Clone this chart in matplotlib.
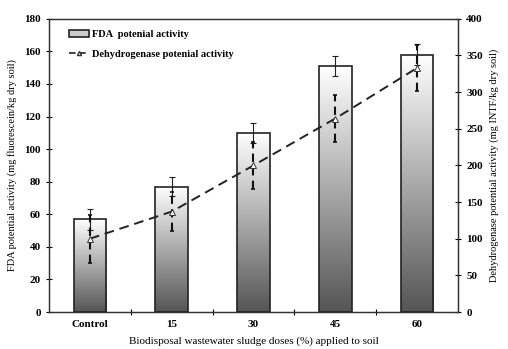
import numpy as np
import matplotlib
matplotlib.use('Agg')
import matplotlib.pyplot as plt
from matplotlib.patches import Rectangle
from matplotlib.lines import Line2D
from matplotlib.colors import LinearSegmentedColormap

plt.rcParams['font.family'] = 'Liberation Serif'
plt.rcParams['font.weight'] = 'bold'
plt.rcParams['font.size'] = 8

doses = ['Control', '15', '30', '45', '60']
fda = [57, 77, 110, 151, 158]
fda_err = [6.5, 6, 6, 6, 6.5]
dehydro = [100, 137, 200, 264, 333]
dehydro_err = [33, 27, 32, 32, 31]

x = np.arange(len(doses))

fig = plt.figure(figsize=(5.08, 3.49), dpi=100)
ax = fig.add_axes([0.0965, 0.106, 0.805, 0.84])

# bars with a white-to-grey vertical gradient
grad = LinearSegmentedColormap.from_list('g', ['#555555', '#ffffff'])
bars = ax.bar(x, fda, width=0.4, facecolor='none', edgecolor='#222222',
              linewidth=1.2, zorder=3)
for b in bars:
    x0, w, h = b.get_x(), b.get_width(), b.get_height()
    im = ax.imshow(np.linspace(0, 1, 256).reshape(-1, 1), cmap=grad,
                   origin='lower', aspect='auto', extent=[x0, x0 + w, 0, h],
                   zorder=2)
    im.set_clip_path(b)
ax.errorbar(x, fda, yerr=fda_err, fmt='none', ecolor='#222222',
            elinewidth=0.8, capsize=2, capthick=0.8, zorder=4)

ax.set_xlim(-0.5, 4.5)
ax.set_ylim(0, 180)
ax.set_yticks(range(0, 181, 20))
ax.set_xticks(x)
ax.set_xticklabels(doses)
ax.set_xticks(x[:-1] + 0.5, minor=True)
ax.tick_params(axis='x', which='major', length=0, pad=6)
ax.tick_params(axis='x', which='minor', direction='inout', length=5, width=0.8)
ax.tick_params(axis='y', direction='inout', length=5, width=0.8)
ax.set_xlabel('Biodisposal wastewater sludge doses (%) applied to soil', labelpad=5)
ax.set_ylabel('FDA potential activity (mg fluorescein/kg dry soil)', fontsize=7.5, labelpad=5)
for s in ax.spines.values():
    s.set_color('#333333')
    s.set_linewidth(0.9)

ax2 = ax.twinx()
eb = ax2.errorbar(x, dehydro, yerr=dehydro_err, fmt='none', ecolor='#111111',
                  elinewidth=1.5, capsize=1.5, capthick=1.2, zorder=4)
eb[2][0].set_linestyle((0, (4, 2.5)))
ax2.plot(x, dehydro, color='#222222', lw=1.4, dashes=(5, 3), marker='^',
         ms=4, mfc='white', mec='#333333', mew=0.7, zorder=5)
ax2.set_ylim(0, 400)
ax2.set_yticks(range(0, 401, 50))
ax2.tick_params(axis='y', direction='inout', length=5, width=0.8)
ax2.set_ylabel('Dehydrogenase potential activity (mg INTF/kg dry soil)', fontsize=7.5, labelpad=5)
for s in ax2.spines.values():
    s.set_color('#333333')
    s.set_linewidth(0.9)

handles = [Rectangle((0, 0), 1, 1, facecolor='#cccccc', edgecolor='#222222', lw=1.2),
           Line2D([], [], color='#222222', lw=1.2, dashes=(4, 2), marker='^',
                  ms=3, mfc='white', mec='#333333')]
ax2.legend(handles, ['FDA  potenial activity', 'Dehydrogenase potenial activity'],
           loc='upper left', bbox_to_anchor=(0.025, 0.995), frameon=False,
           handlelength=2.0, handletextpad=0.2, labelspacing=1.0, fontsize=7.5)

fig.savefig('out.png', dpi=100)
